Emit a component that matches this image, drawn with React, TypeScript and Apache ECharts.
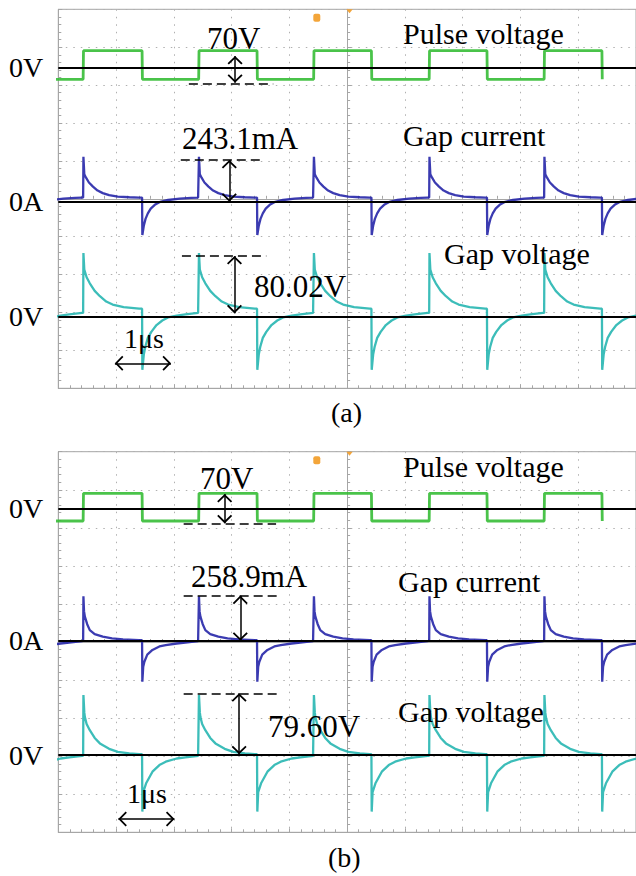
import React, { useEffect, useRef } from 'react';
import * as echarts from 'echarts';

const FONT = "'Liberation Serif', 'Times New Roman', serif";

// ---- timing (μs); 1 μs per horizontal division, 10 divisions ----
const timeRange = [0, 10];
const risingEdges = [0.43, 2.43, 4.42, 6.42, 8.41];
const fallingEdges = [-0.56, 1.45, 3.44, 5.42, 7.42, 9.41];

// ---- panel (a): responses after each edge, [dt μs, value] ----
const pulseRiseA = [[0, -28.4], [0.006, 41.6]];
const pulseFallA = [[0, 41.6], [0.006, -28.4]];
const currentRiseA = [[0, 24], [0.005, 262], [0.02, 160], [0.05, 140], [0.1, 112], [0.17, 88], [0.25, 65], [0.34, 50], [0.45, 38], [0.6, 30], [0.8, 26], [0.97, 24]];
const currentFallA = [[0, 24], [0.005, -194], [0.03, -140], [0.06, -100], [0.1, -68], [0.15, -40], [0.22, -18], [0.3, -3], [0.45, 10], [0.65, 18], [0.85, 22], [0.97, 24]];
const gapRiseA = [[0, 5], [0.005, 84], [0.02, 62], [0.06, 52], [0.115, 44], [0.2, 34], [0.29, 27], [0.4, 20], [0.51, 16], [0.7, 12.5], [0.97, 10.5]];
const gapFallA = [[0, 10.5], [0.005, -70], [0.03, -50], [0.055, -40], [0.1, -28], [0.16, -20], [0.25, -11], [0.35, -5], [0.45, -1], [0.6, 1.5], [0.75, 3], [0.97, 5]];

// ---- panel (b) ----
const pulseRiseB = [[0, -30.3], [0.006, 39.7]];
const pulseFallB = [[0, 39.7], [0.006, -30.3]];
const currentRiseB = [[0, 0], [0.005, 255], [0.015, 170], [0.03, 138], [0.07, 95], [0.115, 61], [0.2, 38], [0.34, 23], [0.5, 13], [0.69, 8], [0.97, 3]];
const currentFallB = [[0, 3], [0.005, -236], [0.02, -150], [0.04, -121], [0.09, -80], [0.18, -53], [0.3, -33], [0.41, -25], [0.6, -16], [0.75, -11], [0.97, -2]];
const gapRiseB = [[0, -1], [0.005, 77.4], [0.02, 55], [0.03, 49], [0.06, 40], [0.115, 32], [0.2, 22], [0.29, 15], [0.45, 8], [0.6, 4], [0.8, 2], [0.97, 1]];
const gapFallB = [[0, 1], [0.005, -73], [0.02, -48], [0.07, -36.5], [0.18, -21.5], [0.3, -13], [0.41, -8.6], [0.6, -4.5], [0.75, -3], [0.97, -1]];

// ---- channel axis ranges (units) ----
const pulseRangeA = [-784.8, 143.0];
const currentRangeA = [-1087.9, 1121.7];
const gapRangeA = [-94.4, 405.2];
const pulseRangeB = [-817, 144.8];
const currentRangeB = [-1101.7, 1086.8];
const gapRangeB = [-99.7, 391.3];

// ---- measurement annotations (data units) ----
const measA = {
  pulse: { dashY: -39.9, dashX: [2.26, 3.72], arrowX: 3.06, arrowY: [28.6, -36.7] },
  current: { dashY: 243.1, dashX: [2.12, 3.57], arrowX: 2.96, arrowY: [243.1, 0] },
  gap: { dashY: 80.02, dashX: [2.14, 3.6], arrowX: 3.05, arrowY: [80.02, 4.5] },
  time: { y: -61.4, x: [0.98, 1.95] },
};
const measB = {
  pulse: { dashY: -36.1, dashX: [2.17, 3.77], arrowX: 2.88, arrowY: [37.9, -36.1] },
  current: { dashY: 258.9, dashX: [2.17, 3.8], arrowX: 3.15, arrowY: [258.9, 0] },
  gap: { dashY: 79.6, dashX: [2.17, 3.8], arrowX: 3.13, arrowY: [79.6, 1] },
  time: { y: -82.6, x: [1.04, 2.01] },
};

const GREEN = '#36bd36';
const BLUE = '#2626a8';
const CYAN = '#27b6b1';
const GRID_GRAY = '#a6a6a6';

const CHEV = 'path://M7,0L7,0.01Z M7,8L14,15L12.8,16.2L7,10.4L1.2,16.2L0,15Z';

function buildTrace(rise: number[][], fall: number[][]) {
  const edges = [
    ...risingEdges.map((t) => ({ t, shape: rise })),
    ...fallingEdges.map((t) => ({ t, shape: fall })),
  ].sort((a, b) => a.t - b.t);
  const out: number[][] = [];
  edges.forEach((e, i) => {
    const next = i + 1 < edges.length ? edges[i + 1].t : Infinity;
    e.shape.forEach(([dt, v]) => {
      const t = e.t + dt;
      if (t < next) out.push([Math.round(t * 1000) / 1000, v]);
    });
  });
  return out;
}

const dashStyle = { color: '#000', width: 1.5, type: [9, 5] as any };
const arrowStyle = { color: '#000', width: 1.5, type: 'solid' as any };
const zeroStyle = { color: '#000', width: 1.8, type: 'solid' as any };

function measureLines(m: any, withTime?: any) {
  const d: any[] = [
    { yAxis: 0, lineStyle: zeroStyle },
    [
      { coord: [m.dashX[0], m.dashY], lineStyle: dashStyle },
      { coord: [m.dashX[1], m.dashY], lineStyle: dashStyle },
    ],
    [
      { coord: [m.arrowX, m.arrowY[0]], symbol: CHEV, symbolSize: [15, 17], lineStyle: arrowStyle },
      { coord: [m.arrowX, m.arrowY[1]], symbol: CHEV, symbolSize: [15, 17], lineStyle: arrowStyle },
    ],
  ];
  if (withTime) {
    d.push([
      { coord: [withTime.x[0], withTime.y], symbol: CHEV, symbolSize: [15, 17], lineStyle: arrowStyle },
      { coord: [withTime.x[1], withTime.y], symbol: CHEV, symbolSize: [15, 17], lineStyle: arrowStyle },
    ]);
  }
  return d;
}

function mainX(g: number) {
  return {
    type: 'value', gridIndex: g, min: timeRange[0], max: timeRange[1], interval: 1, position: 'bottom',
    axisLine: { show: true, onZero: false, lineStyle: { color: GRID_GRAY } },
    axisTick: { show: true, inside: true, length: 4, lineStyle: { color: GRID_GRAY } },
    minorTick: { show: true, splitNumber: 5, length: 3, lineStyle: { color: GRID_GRAY } },
    axisLabel: { show: false },
    splitLine: { show: true, lineStyle: { color: '#b0b0b0', type: [1.5, 6], width: 1 } },
  };
}
function centerX(g: number, yIdx: number) {
  return {
    type: 'value', gridIndex: g, min: -5, max: 5, interval: 1, position: 'bottom',
    axisLine: { show: true, onZero: true, onZeroAxisIndex: yIdx, lineStyle: { color: GRID_GRAY } },
    axisTick: { show: true, inside: true, length: 4, lineStyle: { color: GRID_GRAY } },
    minorTick: { show: true, splitNumber: 5, length: 3, lineStyle: { color: GRID_GRAY } },
    axisLabel: { show: false },
    splitLine: { show: false },
  };
}
function leftY(g: number) {
  return {
    type: 'value', gridIndex: g, min: -5, max: 5, interval: 1, position: 'left',
    axisLine: { show: true, onZero: false, lineStyle: { color: GRID_GRAY } },
    axisTick: { show: true, inside: true, length: 4, lineStyle: { color: GRID_GRAY } },
    minorTick: { show: true, splitNumber: 5, length: 3, lineStyle: { color: GRID_GRAY } },
    axisLabel: { show: false },
    splitLine: { show: true, lineStyle: { color: '#b0b0b0', type: [1.5, 6], width: 1 } },
  };
}
function centerY(g: number, xIdx: number) {
  return {
    type: 'value', gridIndex: g, min: -5, max: 5, interval: 1, position: 'left',
    axisLine: { show: true, onZero: true, onZeroAxisIndex: xIdx, lineStyle: { color: GRID_GRAY } },
    axisTick: { show: true, inside: true, length: 4, lineStyle: { color: GRID_GRAY } },
    minorTick: { show: true, splitNumber: 5, length: 3, lineStyle: { color: GRID_GRAY } },
    axisLabel: { show: false },
    splitLine: { show: false },
  };
}
function channelY(g: number, range: number[], zeroLabel: string) {
  return {
    type: 'value', gridIndex: g, min: range[0], max: range[1], interval: -range[0], position: 'left',
    axisLine: { show: false, onZero: false },
    axisTick: { show: false },
    splitLine: { show: false },
    axisLabel: {
      show: true, margin: 15, fontSize: 28, fontFamily: FONT, color: '#000',
      showMinLabel: false, showMaxLabel: false,
      formatter: (v: number) => (Math.abs(v) < 1e-6 ? zeroLabel : ''),
    },
  };
}

function trace(name: string, xIdx: number, yIdx: number, data: number[][], color: string, width: number, marks: any[]) {
  return {
    type: 'line', name, xAxisIndex: xIdx, yAxisIndex: yIdx, data, showSymbol: false, symbol: 'none',
    clip: true, silent: true,
    lineStyle: { color, width, opacity: 0.9 },
    markLine: { silent: true, symbol: 'none', label: { show: false }, animation: false, data: marks },
  };
}

type T = [string, number, number, number];
const texts: T[] = [
  ['Pulse voltage', 403, 33.5, 30],
  ['70V', 207, 38.5, 31],
  ['243.1mA', 182, 138.5, 31],
  ['Gap current', 403, 135, 30],
  ['Gap voltage', 444, 253.5, 30],
  ['80.02V', 254, 286.5, 31],
  ['1μs', 124, 338, 28],
  ['(a)', 331, 412, 28],
  ['Pulse voltage', 403, 466, 30],
  ['70V', 200, 478.5, 31],
  ['258.9mA', 191, 576, 31],
  ['Gap current', 398, 581.5, 30],
  ['Gap voltage', 398, 711.5, 30],
  ['79.60V', 268, 726.5, 31],
  ['1μs', 127, 793, 28],
  ['(b)', 328, 857, 28],
];

function buildOption() {
  const graphic: any[] = texts.map(([text, x, y, size]) => ({
    type: 'text', x, y, z: 100, silent: true,
    style: { text, fill: '#000', fontSize: size, fontFamily: FONT, align: 'left', verticalAlign: 'middle' },
  }));
  [9.3, 451.7].forEach((top) => {
    graphic.push({ type: 'rect', z: 100, shape: { x: 313.3, y: top + 4.5, width: 7, height: 8, r: 2 }, style: { fill: '#f3a53a' } });
    graphic.push({ type: 'polygon', z: 100, shape: { points: [[346.3, top], [352.7, top], [349.5, top + 4]] }, style: { fill: '#f3a53a' } });
  });

  return {
    animation: false,
    backgroundColor: '#fff',
    grid: [
      { left: 58.3, top: 9.3, width: 583.3, height: 379, show: true, borderColor: GRID_GRAY, borderWidth: 1 },
      { left: 58.3, top: 451.7, width: 583.3, height: 380.6, show: true, borderColor: GRID_GRAY, borderWidth: 1 },
    ],
    xAxis: [mainX(0), centerX(0, 0), mainX(1), centerX(1, 5)],
    yAxis: [
      leftY(0), centerY(0, 1),
      channelY(0, pulseRangeA, '0V'), channelY(0, currentRangeA, '0A'), channelY(0, gapRangeA, '0V'),
      leftY(1), centerY(1, 3),
      channelY(1, pulseRangeB, '0V'), channelY(1, currentRangeB, '0A'), channelY(1, gapRangeB, '0V'),
    ],
    series: [
      trace('Pulse voltage (a)', 0, 2, buildTrace(pulseRiseA, pulseFallA), GREEN, 2.8, measureLines(measA.pulse)),
      trace('Gap current (a)', 0, 3, buildTrace(currentRiseA, currentFallA), BLUE, 2.3, measureLines(measA.current)),
      trace('Gap voltage (a)', 0, 4, buildTrace(gapRiseA, gapFallA), CYAN, 2.3, measureLines(measA.gap, measA.time)),
      trace('Pulse voltage (b)', 2, 7, buildTrace(pulseRiseB, pulseFallB), GREEN, 2.8, measureLines(measB.pulse)),
      trace('Gap current (b)', 2, 8, buildTrace(currentRiseB, currentFallB), BLUE, 2.3, measureLines(measB.current)),
      trace('Gap voltage (b)', 2, 9, buildTrace(gapRiseB, gapFallB), CYAN, 2.3, measureLines(measB.gap, measB.time)),
    ],
    graphic,
  };
}

export default function App() {
  const ref = useRef<HTMLDivElement>(null);
  useEffect(() => {
    if (!ref.current) return;
    const chart = echarts.init(ref.current, null, { renderer: 'svg' });
    chart.setOption(buildOption() as any);
    return () => chart.dispose();
  }, []);
  return (
    <div
      ref={ref}
      style={{ position: 'absolute', left: 0, top: 0, width: 636, height: 876, background: '#fff', overflow: 'hidden' }}
    />
  );
}
